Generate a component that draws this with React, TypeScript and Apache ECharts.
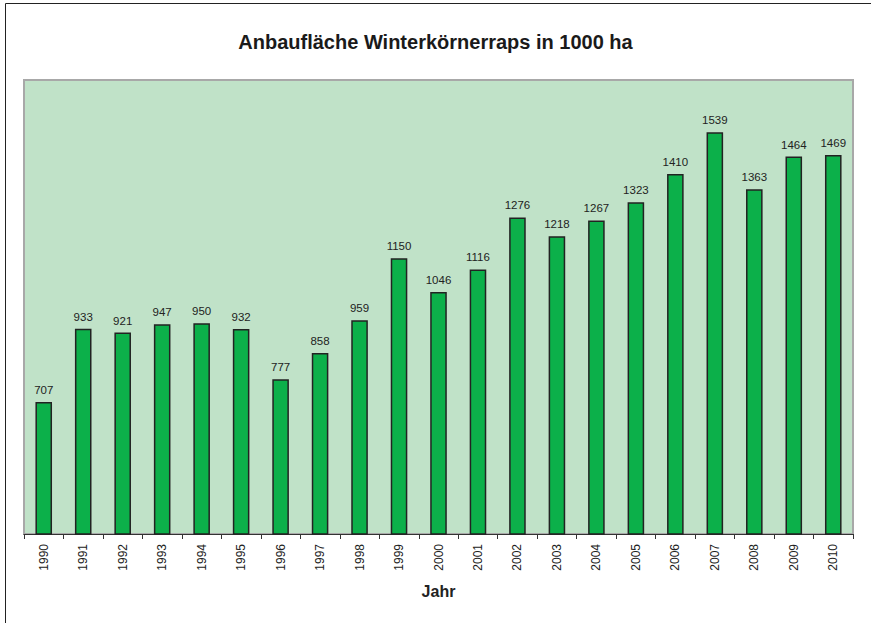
import React, { useEffect, useRef } from "react";
import * as echarts from "echarts";

const years = ["1990","1991","1992","1993","1994","1995","1996","1997","1998","1999","2000","2001","2002","2003","2004","2005","2006","2007","2008","2009","2010"];
const values = [707,933,921,947,950,932,777,858,959,1150,1046,1116,1276,1218,1267,1323,1410,1539,1363,1464,1469];
const titleText = "Anbaufläche Winterkörnerraps in 1000 ha";
const axisName = "Jahr";

export default function App() {
  const ref = useRef<HTMLDivElement>(null);
  useEffect(() => {
    document.body.style.margin = "0";
    const chart = echarts.init(ref.current!, null, { renderer: "svg" });
    chart.setOption({
      animation: false,
      backgroundColor: "#ffffff",
      title: {
        text: titleText,
        left: "center",
        top: 27,
        textStyle: { fontFamily: "Liberation Sans, Arial", fontSize: 20, fontWeight: "bold", color: "#1a1a1a" },
      },
      graphic: [
        { type: "rect", shape: { x: 5.5, y: 3.5, width: 900, height: 700 }, style: { fill: "none", stroke: "#222", lineWidth: 1 }, silent: true },
      ],
      grid: { left: 24, top: 80, right: 18, bottom: 89, show: true, backgroundColor: "#c0e2c8", borderColor: "#a8a8a8", borderWidth: 2 },
      xAxis: {
        type: "category",
        data: years,
        name: axisName,
        nameLocation: "middle",
        nameGap: 49,
        nameTextStyle: { fontFamily: "Liberation Sans, Arial", fontSize: 16, fontWeight: "bold", color: "#222" },
        axisLine: { lineStyle: { color: "#333", width: 1 } },
        axisTick: { show: true, alignWithLabel: false, length: 5, lineStyle: { color: "#333" } },
        axisLabel: { rotate: 90, fontFamily: "Liberation Sans, Arial", fontSize: 12, color: "#222", margin: 10, interval: 0 },
      },
      yAxis: {
        type: "value",
        min: 300,
        max: 1700,
        show: false,
        splitLine: { show: false },
      },
      series: [
        {
          type: "bar",
          data: values,
          barWidth: "42%",
          itemStyle: { color: "#0cb04a", borderColor: "#222", borderWidth: 1.5 },
          label: { show: true, position: "top", distance: 6, fontFamily: "Liberation Sans, Arial", fontSize: 11.5, color: "#222" },
        },
      ],
    });
    return () => chart.dispose();
  }, []);
  return <div ref={ref} style={{ width: 871, height: 623 }} />;
}
